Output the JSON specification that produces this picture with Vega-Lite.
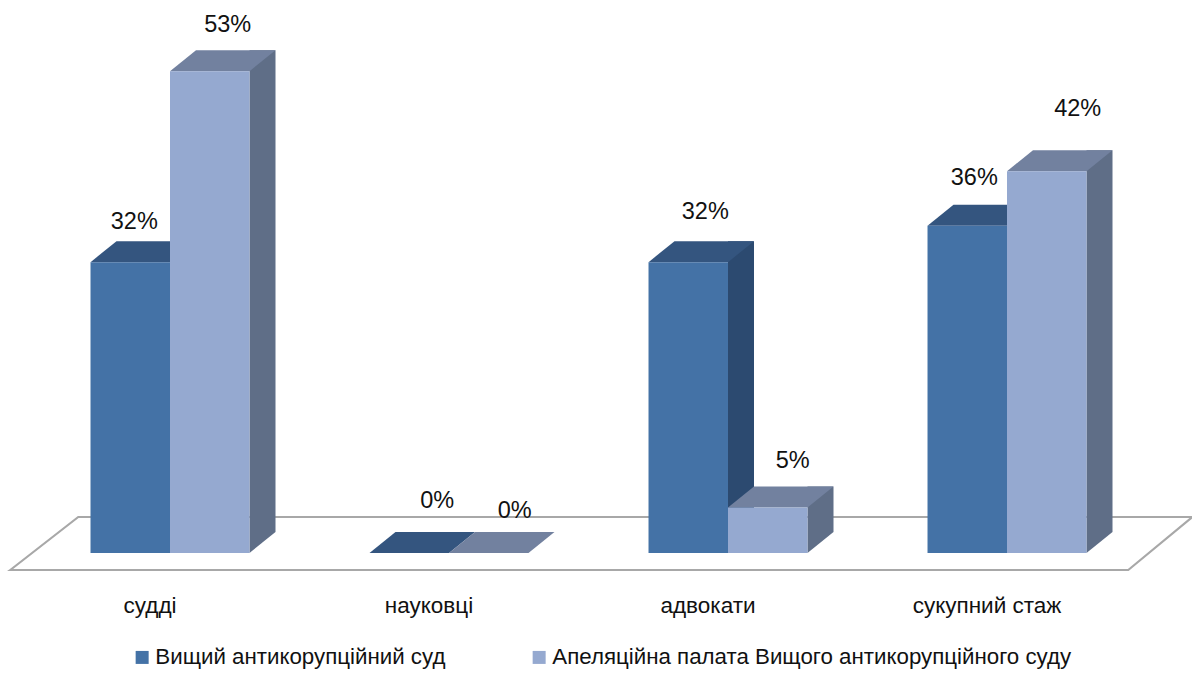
{"$schema":"https://vega.github.io/schema/vega-lite/v6.json","width":1192,"height":553,"autosize":{"type":"none"},"padding":{"left":0,"top":0,"right":0,"bottom":122},"background":"white","view":{"stroke":null},"config":{"font":"Liberation Sans"},
"resolve":{"scale":{"xOffset":"independent"}},
"data":{"values":[
{"category":"судді","series":"Вищий антикорупційний суд","value":0.32},
{"category":"судді","series":"Апеляційна палата Вищого антикорупційного суду","value":0.53},
{"category":"науковці","series":"Вищий антикорупційний суд","value":0},
{"category":"науковці","series":"Апеляційна палата Вищого антикорупційного суду","value":0},
{"category":"адвокати","series":"Вищий антикорупційний суд","value":0.32},
{"category":"адвокати","series":"Апеляційна палата Вищого антикорупційного суду","value":0.05},
{"category":"сукупний стаж","series":"Вищий антикорупційний суд","value":0.36},
{"category":"сукупний стаж","series":"Апеляційна палата Вищого антикорупційного суду","value":0.42}]},
"encoding":{
"x":{"field":"category","type":"nominal","sort":["судді","науковці","адвокати","сукупний стаж"],"scale":{"range":[30.5,1146.5],"paddingInner":0,"paddingOuter":0},"axis":{"title":null,"labelAngle":0,"domain":false,"ticks":false,"grid":false,"labelPadding":41,"labelOffset":-20,"labelFontSize":22.5,"labelColor":"#111111","labelFont":"Liberation Sans","labelBaseline":"top"}},
"xOffset":{"field":"series","type":"nominal","scale":{"type":"band","domain":["Вищий антикорупційний суд","Апеляційна палата Вищого антикорупційного суду"],"range":[0,279],"paddingInner":0,"paddingOuter":0.755}},
"y":{"field":"value","type":"quantitative","scale":{"domain":[0,0.6084],"nice":false,"zero":false},"axis":null}},
"layer":[
{"transform":[{"filter":"datum.category==='судді' && datum.series==='Вищий антикорупційний суд'"}],"mark":{"type":"point","filled":false,"size":4,"opacity":1,"stroke":"#a8a8a8","strokeWidth":2.2,"fill":"white","fillOpacity":1,"shape":"M-120 17 L-52 -36 L1062 -36 L998 17 Z"},"encoding":{"y":{"datum":0}}},
{"transform":[{"filter":"datum.value>0"}],"mark":{"type":"bar","width":26,"yOffset":-21,"y2Offset":-21},"encoding":{"xOffset":{"field":"series","type":"nominal","scale":{"type":"band","domain":["Вищий антикорупційний суд","Апеляційна палата Вищого антикорупційного суду"],"range":[112.75,271.75],"paddingInner":0,"paddingOuter":0}},"y2":{"datum":0},"color":{"condition":{"test":"datum.series==='Вищий антикорупційний суд'","value":"#2c4a70"},"value":"#5f6e87"}}},
{"transform":[{"filter":"datum.value>0"}],"mark":{"type":"point","filled":true,"size":4,"opacity":1,"shape":"M39.75 0 L65.75 -21 L39.75 -21 Z"},"encoding":{"y":{"datum":0},"color":{"condition":{"test":"datum.series==='Вищий антикорупційний суд'","value":"#2c4a70"},"value":"#5f6e87"}}},
{"mark":{"type":"point","filled":true,"size":4,"opacity":1,"shape":"M-39.75 0 L39.75 0 L65.75 -21 L-13.75 -21 Z"},"encoding":{"color":{"condition":{"test":"datum.series==='Вищий антикорупційний суд'","value":"#34557f"},"value":"#72819f"}}},
{"mark":{"type":"bar"},"encoding":{"y2":{"datum":0},"color":{"field":"series","type":"nominal","sort":["Вищий антикорупційний суд","Апеляційна палата Вищого антикорупційного суду"],"scale":{"range":["#4472a6","#95a9d0"]},"legend":{"title":null,"orient":"none","legendX":131,"legendY":646,"direction":"horizontal","columns":2,"symbolType":"square","symbolSize":169,"symbolStrokeWidth":0,"labelOffset":2,"columnPadding":82,"labelFontSize":22.3,"labelColor":"#111111","labelFont":"Liberation Sans","labelLimit":700}}}},
{"transform":[{"filter":"datum.category==='судді' && datum.series==='Вищий антикорупційний суд'"}],"mark":{"type":"text","fontSize":23.5,"color":"#111111","dx":4,"dy":-40},"encoding":{"text":{"field":"value","format":".0%"}}},
{"transform":[{"filter":"datum.category==='судді' && datum.series!=='Вищий антикорупційний суд'"}],"mark":{"type":"text","fontSize":23.5,"color":"#111111","dx":18,"dy":-46},"encoding":{"text":{"field":"value","format":".0%"}}},
{"transform":[{"filter":"datum.category==='науковці' && datum.series==='Вищий антикорупційний суд'"}],"mark":{"type":"text","fontSize":23.5,"color":"#111111","dx":28,"dy":-52},"encoding":{"text":{"field":"value","format":".0%"}}},
{"transform":[{"filter":"datum.category==='науковці' && datum.series!=='Вищий антикорупційний суд'"}],"mark":{"type":"text","fontSize":23.5,"color":"#111111","dx":26,"dy":-42},"encoding":{"text":{"field":"value","format":".0%"}}},
{"transform":[{"filter":"datum.category==='адвокати' && datum.series==='Вищий антикорупційний суд'"}],"mark":{"type":"text","fontSize":23.5,"color":"#111111","dx":17,"dy":-50},"encoding":{"text":{"field":"value","format":".0%"}}},
{"transform":[{"filter":"datum.category==='адвокати' && datum.series!=='Вищий антикорупційний суд'"}],"mark":{"type":"text","fontSize":23.5,"color":"#111111","dx":25,"dy":-47},"encoding":{"text":{"field":"value","format":".0%"}}},
{"transform":[{"filter":"datum.category==='сукупний стаж' && datum.series==='Вищий антикорупційний суд'"}],"mark":{"type":"text","fontSize":23.5,"color":"#111111","dx":7,"dy":-48},"encoding":{"text":{"field":"value","format":".0%"}}},
{"transform":[{"filter":"datum.category==='сукупний стаж' && datum.series!=='Вищий антикорупційний суд'"}],"mark":{"type":"text","fontSize":23.5,"color":"#111111","dx":31,"dy":-62},"encoding":{"text":{"field":"value","format":".0%"}}}
]}
